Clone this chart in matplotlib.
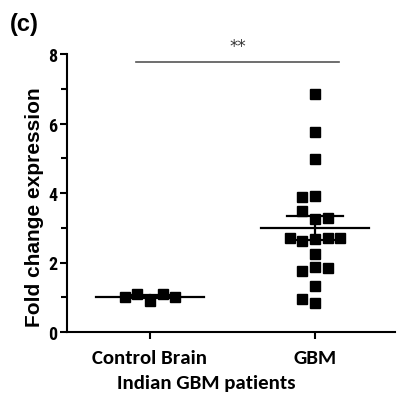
import numpy as np
import matplotlib
matplotlib.use("Agg")
import matplotlib.pyplot as plt
import matplotlib.transforms as mtransforms

# fold change values (order kept as read, row by row)
control_vals = [0.88, 1.10, 1.10, 1.00, 1.00]
gbm_vals = [6.86, 5.76, 4.97, 3.90, 3.88, 3.24, 3.48, 3.27, 2.67, 2.62,
            2.70, 2.71, 2.70, 2.24, 1.88, 1.76, 1.83, 1.33, 0.83, 0.95]
groups = ["Control Brain", "GBM"]
y_ticks = [0, 2, 4, 6, 8]
sig_text = "**"


def swarm_offsets(vals, dx, dy):
    '''
    Greedy placement: each point takes the first free slot 0, -1, +1, -2, +2 ...
    '''
    slots = [0, -1, 1, -2, 2, -3, 3, -4, 4]
    placed = []
    out = []
    for v in vals:
        for s in slots:
            clash = any(abs(v - pv) < dy and ps == s for pv, ps in placed)
            if not clash:
                placed.append((v, s))
                out.append(s * dx)
                break
    return np.array(out)


fig = plt.figure(figsize=(3.98, 4.02), dpi=100)
ax = fig.add_axes([67/398, 69/402, 328/398, 278/402])

dx = 0.076
dy = 0.29
for i, vals in enumerate([control_vals, gbm_vals]):
    vals = np.array(vals)
    xs = i + swarm_offsets(vals, dx, dy)
    ax.plot(xs, vals, 's', color='black', markersize=7.2, clip_on=False, zorder=3)

    # mean and SEM
    m = vals.mean()
    sem = vals.std(ddof=1) / np.sqrt(len(vals))
    ax.plot([i - 0.33, i + 0.33], [m, m], color='black', lw=1.6, zorder=4)
    ax.plot([i, i], [m - sem, m + sem], color='black', lw=1.6, zorder=4)
    for e in [m - sem, m + sem]:
        ax.plot([i - 0.17, i + 0.17], [e, e], color='black', lw=1.6, zorder=4)

# significance bar
ax.plot([-0.085, 1.145], [7.77, 7.77], color='#555555', lw=1.2, clip_on=False)
ax.text(0.53, 8.22, sig_text, ha='center', va='center', fontsize=12,
        color='#333333', family='DejaVu Sans')

ax.set_xlim(-0.503, 1.485)
ax.set_ylim(0, 8)
ax.set_yticks(y_ticks)
ax.set_yticks([1, 3, 5, 7], minor=True)
ax.set_xticks([0, 1])
ax.set_xticklabels(groups, fontsize=15, fontweight='bold', family=['Carlito', 'Lato', 'DejaVu Sans'])
for t in ax.get_yticklabels():
    t.set_fontsize(13)
    t.set_fontweight('bold')
    t.set_family(['Roboto Condensed', 'Archivo Narrow', 'DejaVu Sans'])

# control label sits a little right of its tick in the original
shift = mtransforms.ScaledTranslation(9/100, 0, fig.dpi_scale_trans)
lab0 = ax.get_xticklabels()[0]
lab0.set_transform(lab0.get_transform() + shift)

for s in ['top', 'right']:
    ax.spines[s].set_visible(False)
for s in ['left', 'bottom']:
    ax.spines[s].set_linewidth(1.5)
ax.tick_params(which='major', length=5, width=1.5, pad=2)
ax.tick_params(axis='x', which='major', pad=7)
ax.tick_params(which='minor', length=4, width=1.5)
ax.tick_params(axis='x', which='minor', bottom=False)

fig.text(35/398, 1 - 207/402, "Fold change expression", rotation=90, ha='center',
         va='center', fontsize=15, fontweight='bold', family=['Liberation Sans', 'DejaVu Sans'])
fig.text(206/398, 1 - 384/402, "Indian GBM patients", ha='center', va='center',
         fontsize=15, fontweight='bold', family=['Carlito', 'Lato', 'DejaVu Sans'])
fig.text(10/398, 1 - 25/402, "(c)", ha='left', va='center', fontsize=17,
         fontweight='bold', family=['Liberation Sans', 'DejaVu Sans'])

fig.savefig("out.png", dpi=100)
